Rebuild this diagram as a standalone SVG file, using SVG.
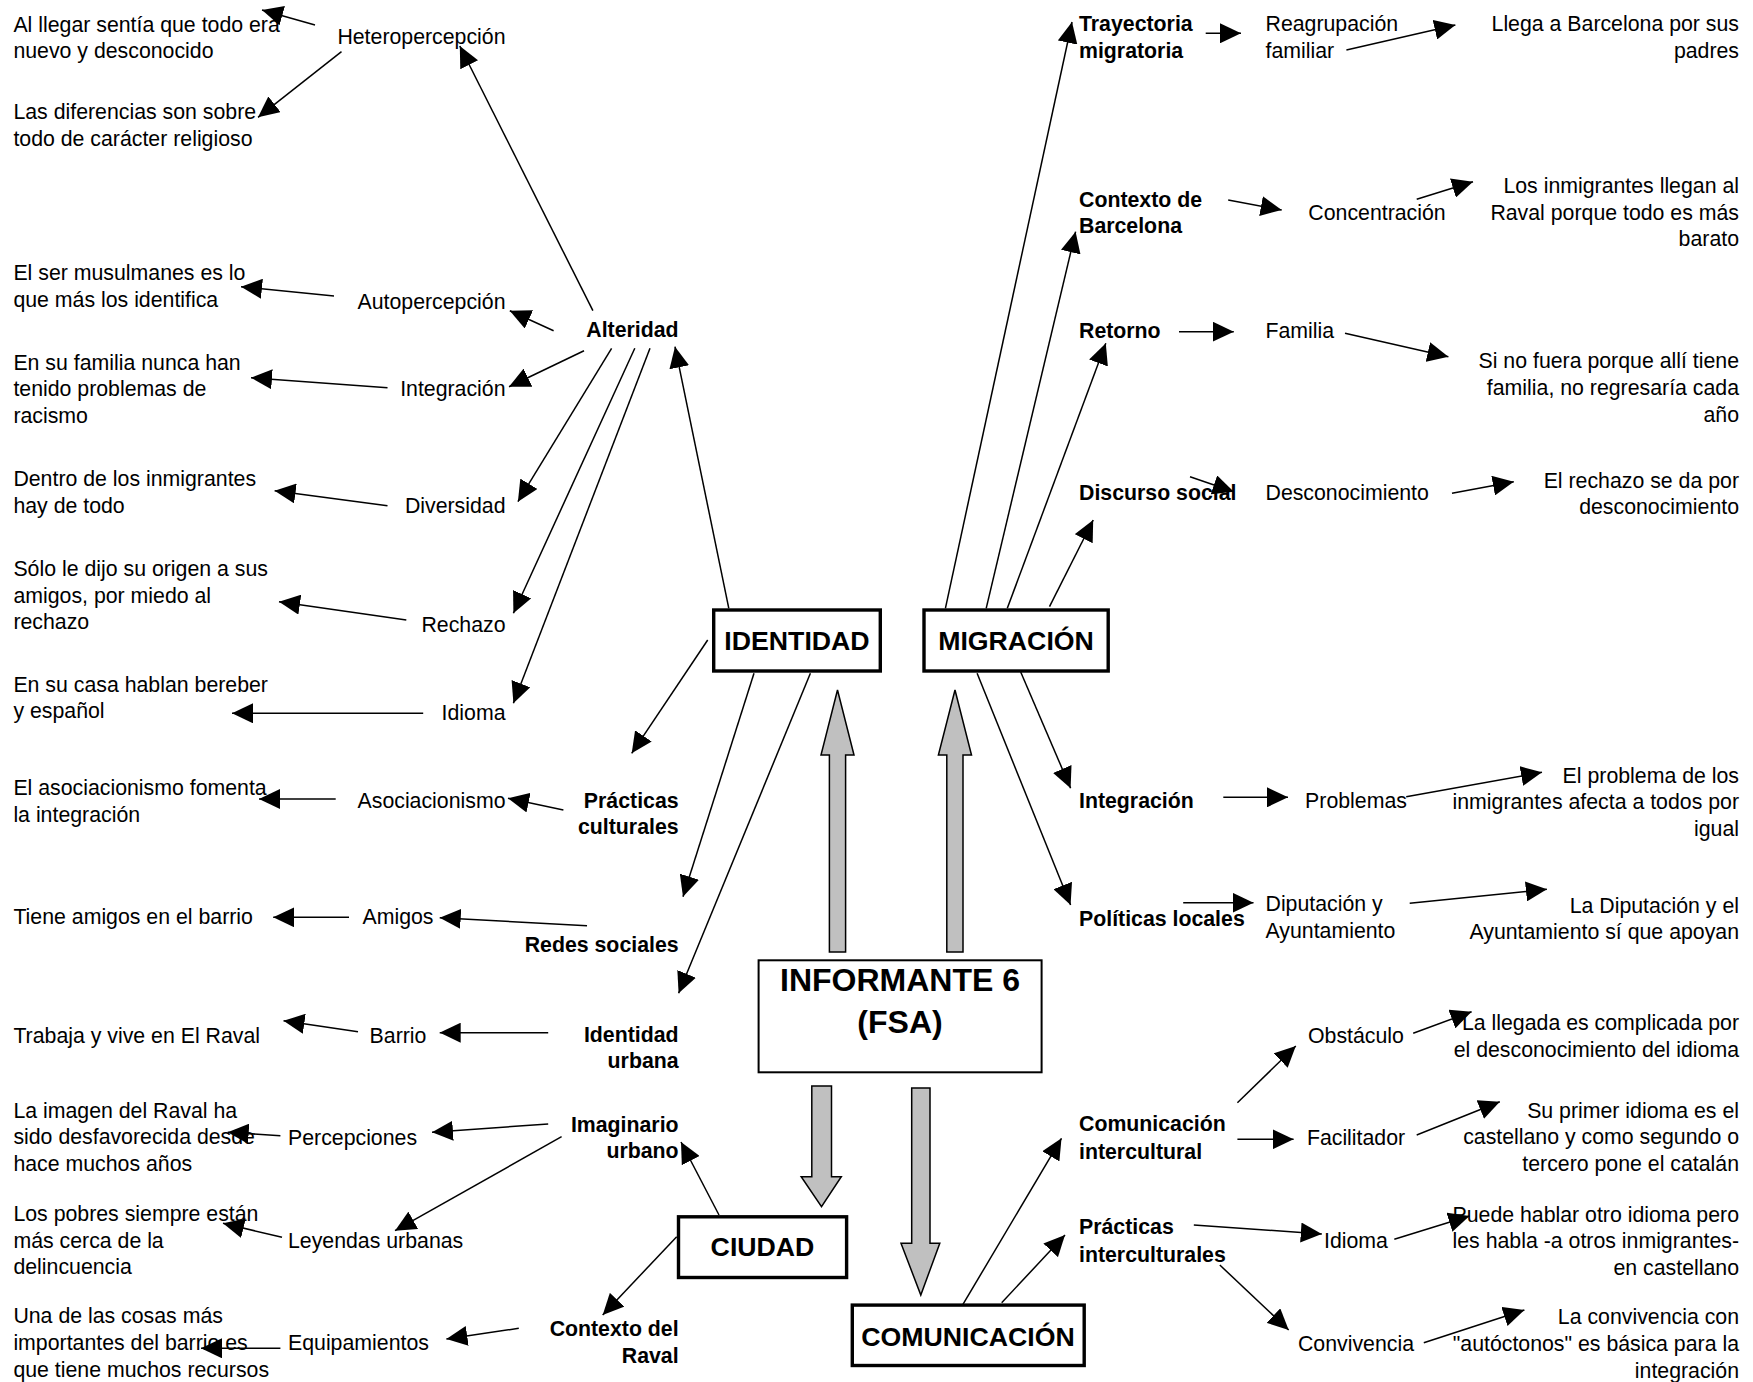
<svg xmlns="http://www.w3.org/2000/svg" width="1753" height="1382" viewBox="0 0 1753 1382">
<style>
text{font-family:"Liberation Sans",Arial,sans-serif;font-size:21.3px;fill:#000}
.b{font-weight:bold}
.r{text-anchor:end}
.m{text-anchor:middle}
.box{font-weight:bold;font-size:26.7px;text-anchor:middle}
.big{font-weight:bold;font-size:32px;text-anchor:middle}
.frame{fill:#fff;stroke:#000;stroke-width:3.4}
.thin{fill:#fff;stroke:#000;stroke-width:2}
.block{fill:#c0c0c0;stroke:#000;stroke-width:1.5}
#connectors line{stroke:#000;stroke-width:1.5;marker-end:url(#ah)}
</style>
<defs>
<marker id="ah" viewBox="0 0 21 20" refX="21" refY="10" markerWidth="21" markerHeight="20" markerUnits="userSpaceOnUse" orient="auto"><path d="M0,0 L21,10 L0,20 z" fill="#000"/></marker>
</defs>
<rect width="1753" height="1382" fill="#fff"/>

<g id="connectors">
<line x1="315" y1="25" x2="262" y2="10"/>
<line x1="341.5" y1="51.7" x2="258" y2="117.3"/>
<line x1="592.9" y1="310.7" x2="459.8" y2="46"/>
<line x1="334" y1="296" x2="241" y2="286.7"/>
<line x1="553.6" y1="330.7" x2="509.8" y2="310.7"/>
<line x1="387.5" y1="387.7" x2="251" y2="377.7"/>
<line x1="584" y1="350.7" x2="509" y2="386.7"/>
<line x1="611.6" y1="348.3" x2="517.9" y2="501.7"/>
<line x1="387.5" y1="505.7" x2="274.6" y2="490.7"/>
<line x1="634.8" y1="348.3" x2="513.4" y2="613.3"/>
<line x1="406.3" y1="620" x2="279" y2="601.7"/>
<line x1="650" y1="348.3" x2="513.4" y2="703.3"/>
<line x1="423.2" y1="713.3" x2="232" y2="713.3"/>
<line x1="707.7" y1="640" x2="631.7" y2="753.3"/>
<line x1="563.4" y1="810" x2="508" y2="798.3"/>
<line x1="335.7" y1="799" x2="259" y2="799"/>
<line x1="754" y1="673.3" x2="683" y2="896.7"/>
<line x1="587" y1="925.7" x2="439.7" y2="917.7"/>
<line x1="349" y1="917.3" x2="273.2" y2="917.3"/>
<line x1="810.4" y1="673.3" x2="678.6" y2="993.3"/>
<line x1="548.2" y1="1032.7" x2="439.7" y2="1032.7"/>
<line x1="358" y1="1031.7" x2="283.5" y2="1020.7"/>
<line x1="548.2" y1="1124" x2="432" y2="1132.3"/>
<line x1="280.4" y1="1135.7" x2="227.7" y2="1132.3"/>
<line x1="561.6" y1="1136.7" x2="395" y2="1230.7"/>
<line x1="282" y1="1237.3" x2="223" y2="1223.3"/>
<line x1="719" y1="1215" x2="681" y2="1142"/>
<line x1="676.7" y1="1236.7" x2="602.7" y2="1315"/>
<line x1="518.8" y1="1328.3" x2="446.4" y2="1339"/>
<line x1="280.4" y1="1348.3" x2="201" y2="1348.3"/>
<line x1="728.8" y1="608.3" x2="675" y2="346.7"/>
<line x1="945.4" y1="608.3" x2="1072" y2="22"/>
<line x1="1205.7" y1="33.3" x2="1241" y2="33.3"/>
<line x1="1346.4" y1="50" x2="1455.4" y2="25"/>
<line x1="986.2" y1="608.3" x2="1075.6" y2="231.7"/>
<line x1="1228.2" y1="200" x2="1281.7" y2="210"/>
<line x1="1416.7" y1="199.3" x2="1473" y2="181.7"/>
<line x1="1007.3" y1="608.3" x2="1105.8" y2="343.3"/>
<line x1="1179" y1="331.7" x2="1233.8" y2="331.7"/>
<line x1="1345" y1="333.3" x2="1448.4" y2="356.7"/>
<line x1="1049.5" y1="606.7" x2="1093.2" y2="520"/>
<line x1="1190" y1="476.7" x2="1233.8" y2="491.7"/>
<line x1="1452" y1="493.3" x2="1513.8" y2="481.7"/>
<line x1="1020.7" y1="672" x2="1070.6" y2="788.3"/>
<line x1="1223.3" y1="797.3" x2="1288" y2="797.3"/>
<line x1="1406.2" y1="796.7" x2="1542" y2="772.3"/>
<line x1="977.1" y1="673.3" x2="1070.6" y2="905"/>
<line x1="1183.2" y1="902.7" x2="1253.5" y2="902.7"/>
<line x1="1409.7" y1="903.3" x2="1546.9" y2="889.3"/>
<line x1="961.6" y1="1306.7" x2="1061.5" y2="1138.3"/>
<line x1="1001.7" y1="1302.7" x2="1065" y2="1235"/>
<line x1="1237.4" y1="1102.7" x2="1295.8" y2="1046"/>
<line x1="1237.4" y1="1139.3" x2="1293.6" y2="1139.3"/>
<line x1="1413.2" y1="1033.3" x2="1471.6" y2="1011.7"/>
<line x1="1416.7" y1="1135" x2="1499.8" y2="1101.7"/>
<line x1="1193.8" y1="1225" x2="1321.8" y2="1234"/>
<line x1="1394.3" y1="1239.3" x2="1469.5" y2="1216"/>
<line x1="1219.8" y1="1265" x2="1288.7" y2="1330"/>
<line x1="1423.8" y1="1342.7" x2="1524.4" y2="1310"/>
</g>

<g id="block-arrows">
<polygon class="block" points="829.4,952 829.4,755 821,755 837.5,690 854,755 845.6,755 845.6,952"/>
<polygon class="block" points="946.8,952 946.8,755 938.4,755 955,690 971.5,755 963,755 963,952"/>
<polygon class="block" points="811.8,1086 831.5,1086 831.5,1176.7 841.3,1176.7 821.5,1206.7 801.2,1176.7 811.8,1176.7"/>
<polygon class="block" points="911.7,1088 930,1088 930,1243.3 939.8,1243.3 920.8,1295 901,1243.3 911.7,1243.3"/>
</g>

<g id="n-identidad"><rect class="frame" x="713.7" y="610" width="166.6" height="61"/><text class="box" x="797" y="649.6">IDENTIDAD</text></g>
<g id="n-migracion"><rect class="frame" x="924" y="610" width="184.2" height="61"/><text class="box" x="1016" y="649.6">MIGRACIÓN</text></g>
<g id="n-informante"><rect class="thin" x="758.6" y="960.3" width="283" height="112"/><text class="big" x="900" y="991">INFORMANTE 6</text><text class="big" x="900" y="1033">(FSA)</text></g>
<g id="n-ciudad"><rect class="frame" x="678.5" y="1216.8" width="168.1" height="60.7"/><text class="box" x="762.5" y="1256.3">CIUDAD</text></g>
<g id="n-comunicacion"><rect class="frame" x="852.3" y="1305.1" width="231.9" height="60.4"/><text class="box" x="968" y="1345.5">COMUNICACIÓN</text></g>

<g id="n-alteridad"><text class="b r" x="678.6" y="337">Alteridad</text></g>
<g id="n-practicas-culturales"><text class="b r" x="678.6" y="807.5">Prácticas<tspan x="678.6" y="834.2">culturales</tspan></text></g>
<g id="n-redes"><text class="b r" x="678.6" y="951.8">Redes sociales</text></g>
<g id="n-identidad-urbana"><text class="b r" x="678.6" y="1041.5">Identidad<tspan x="678.6" y="1068.2">urbana</tspan></text></g>
<g id="n-imaginario"><text class="b r" x="678.6" y="1131.5">Imaginario<tspan x="678.6" y="1158.2">urbano</tspan></text></g>
<g id="n-contexto-raval"><text class="b r" x="678.6" y="1335.8">Contexto del<tspan x="678.6" y="1362.5">Raval</tspan></text></g>

<g id="n-hetero"><text class="r" x="505.5" y="43.5">Heteropercepción</text></g>
<g id="n-auto"><text class="r" x="505.5" y="309">Autopercepción</text></g>
<g id="n-integracion-l"><text class="r" x="505.5" y="395.8">Integración</text></g>
<g id="n-diversidad"><text class="r" x="505.5" y="513.2">Diversidad</text></g>
<g id="n-rechazo"><text class="r" x="505.5" y="631.5">Rechazo</text></g>
<g id="n-idioma-l"><text class="r" x="505.5" y="720.2">Idioma</text></g>
<g id="n-asociacionismo"><text class="r" x="505.5" y="807.5">Asociacionismo</text></g>
<g id="n-amigos"><text class="m" x="398" y="924.2">Amigos</text></g>
<g id="n-barrio"><text class="m" x="398" y="1042.5">Barrio</text></g>
<g id="n-percepciones"><text x="288" y="1144.8">Percepciones</text></g>
<g id="n-leyendas"><text x="288" y="1247.5">Leyendas urbanas</text></g>
<g id="n-equipamientos"><text x="288" y="1350.2">Equipamientos</text></g>

<g id="n-l1"><text x="13.4" y="31.5">Al llegar sentía que todo era<tspan x="13.4" y="58.2">nuevo y desconocido</tspan></text></g>
<g id="n-l2"><text x="13.4" y="118.8">Las diferencias son sobre<tspan x="13.4" y="145.5">todo de carácter religioso</tspan></text></g>
<g id="n-l3"><text x="13.4" y="280.3">El ser musulmanes es lo<tspan x="13.4" y="307">que más los identifica</tspan></text></g>
<g id="n-l4"><text x="13.4" y="369.5">En su familia nunca han<tspan x="13.4" y="396.2">tenido problemas de</tspan><tspan x="13.4" y="422.9">racismo</tspan></text></g>
<g id="n-l5"><text x="13.4" y="485.8">Dentro de los inmigrantes<tspan x="13.4" y="512.5">hay de todo</tspan></text></g>
<g id="n-l6"><text x="13.4" y="575.8">Sólo le dijo su origen a sus<tspan x="13.4" y="602.5">amigos, por miedo al</tspan><tspan x="13.4" y="629.2">rechazo</tspan></text></g>
<g id="n-l7"><text x="13.4" y="691.5">En su casa hablan bereber<tspan x="13.4" y="718.2">y español</tspan></text></g>
<g id="n-l8"><text x="13.4" y="794.8">El asociacionismo fomenta<tspan x="13.4" y="821.5">la integración</tspan></text></g>
<g id="n-l9"><text x="13.4" y="924.2">Tiene amigos en el barrio</text></g>
<g id="n-l10"><text x="13.4" y="1042.5">Trabaja y vive en El Raval</text></g>
<g id="n-l11"><text x="13.4" y="1117.5">La imagen del Raval ha<tspan x="13.4" y="1144.2">sido desfavorecida desde</tspan><tspan x="13.4" y="1170.9">hace muchos años</tspan></text></g>
<g id="n-l12"><text x="13.4" y="1220.8">Los pobres siempre están<tspan x="13.4" y="1247.5">más cerca de la</tspan><tspan x="13.4" y="1274.2">delincuencia</tspan></text></g>
<g id="n-l13"><text x="13.4" y="1323.2">Una de las cosas más<tspan x="13.4" y="1349.9">importantes del barrio es</tspan><tspan x="13.4" y="1376.6">que tiene muchos recursos</tspan></text></g>

<g id="n-trayectoria"><text class="b" x="1079" y="31">Trayectoria<tspan x="1079" y="57.7">migratoria</tspan></text></g>
<g id="n-contexto-bcn"><text class="b" x="1079" y="206.5">Contexto de<tspan x="1079" y="233.2">Barcelona</tspan></text></g>
<g id="n-retorno"><text class="b" x="1079" y="338.2">Retorno</text></g>
<g id="n-discurso"><text class="b" x="1079" y="500.2">Discurso social</text></g>
<g id="n-integracion-r"><text class="b" x="1079" y="807.5">Integración</text></g>
<g id="n-politicas"><text class="b" x="1079" y="925.8">Políticas locales</text></g>
<g id="n-com-intercultural"><text class="b" x="1079" y="1130.8">Comunicación<tspan x="1079" y="1158.5">intercultural</tspan></text></g>
<g id="n-pract-intercult"><text class="b" x="1079" y="1234.2">Prácticas<tspan x="1079" y="1261.5">interculturales</tspan></text></g>

<g id="n-reagrupacion"><text x="1265.5" y="31">Reagrupación<tspan x="1265.5" y="57.7">familiar</tspan></text></g>
<g id="n-concentracion"><text class="m" x="1377" y="219.8">Concentración</text></g>
<g id="n-familia"><text x="1265.5" y="338.2">Familia</text></g>
<g id="n-desconocimiento"><text x="1265.5" y="500.2">Desconocimiento</text></g>
<g id="n-problemas"><text class="m" x="1356" y="807.5">Problemas</text></g>
<g id="n-diputacion"><text x="1265.5" y="910.8">Diputación y<tspan x="1265.5" y="937.5">Ayuntamiento</tspan></text></g>
<g id="n-obstaculo"><text class="m" x="1356" y="1043">Obstáculo</text></g>
<g id="n-facilitador"><text class="m" x="1356" y="1144.5">Facilitador</text></g>
<g id="n-idioma-r"><text class="m" x="1356" y="1247.5">Idioma</text></g>
<g id="n-convivencia"><text class="m" x="1356" y="1350.5">Convivencia</text></g>

<g id="n-r1"><text class="r" x="1739" y="31">Llega a Barcelona por sus<tspan x="1739" y="57.7">padres</tspan></text></g>
<g id="n-r2"><text class="r" x="1739" y="192.8">Los inmigrantes llegan al<tspan x="1739" y="219.5">Raval porque todo es más</tspan><tspan x="1739" y="246.2">barato</tspan></text></g>
<g id="n-r3"><text class="r" x="1739" y="368.3">Si no fuera porque allí tiene<tspan x="1739" y="395">familia, no regresaría cada</tspan><tspan x="1739" y="421.7">año</tspan></text></g>
<g id="n-r4"><text class="r" x="1739" y="487.5">El rechazo se da por<tspan x="1739" y="514.2">desconocimiento</tspan></text></g>
<g id="n-r5"><text class="r" x="1739" y="782.5">El problema de los<tspan x="1739" y="809.2">inmigrantes afecta a todos por</tspan><tspan x="1739" y="835.9">igual</tspan></text></g>
<g id="n-r6"><text class="r" x="1739" y="912.5">La Diputación y el<tspan x="1739" y="939.2">Ayuntamiento sí que apoyan</tspan></text></g>
<g id="n-r7"><text class="r" x="1739" y="1030.2">La llegada es complicada por<tspan x="1739" y="1056.9">el desconocimiento del idioma</tspan></text></g>
<g id="n-r8"><text class="r" x="1739" y="1117.5">Su primer idioma es el<tspan x="1739" y="1144.2">castellano y como segundo o</tspan><tspan x="1739" y="1170.9">tercero pone el catalán</tspan></text></g>
<g id="n-r9"><text class="r" x="1739" y="1221.5">Puede hablar otro idioma pero<tspan x="1739" y="1248.2">les habla -a otros inmigrantes-</tspan><tspan x="1739" y="1274.9">en castellano</tspan></text></g>
<g id="n-r10"><text class="r" x="1739" y="1324.2">La convivencia con<tspan x="1739" y="1350.9">"autóctonos" es básica para la</tspan><tspan x="1739" y="1377.6">integración</tspan></text></g>
</svg>
